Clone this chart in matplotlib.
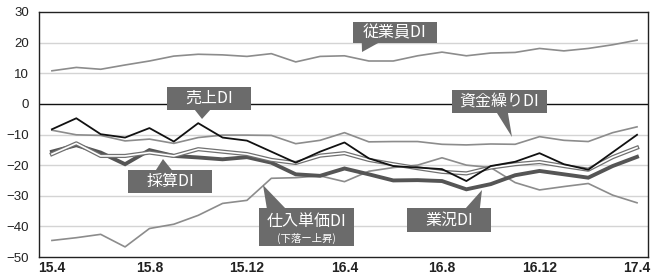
import numpy as np
import matplotlib
matplotlib.use("Agg")
import matplotlib.pyplot as plt
from matplotlib.patches import Rectangle, Polygon

# ---- data ----
xtick_labels = ["15.4", "15.8", "15.12", "16.4", "16.8", "16.12", "17.4"]
employees = [10.8, 11.9, 11.3, 12.7, 14.0, 15.6, 16.2, 16.0, 15.5, 16.4, 13.7, 15.5, 15.7,
             14.0, 14.0, 15.7, 16.9, 15.7, 16.6, 16.8, 18.1, 17.3, 18.1, 19.3, 20.8]
sales = [-8.3, -4.7, -9.9, -11.0, -7.9, -12.3, -6.3, -11.0, -12.0, -15.6, -19.2, -15.6, -12.6,
         -17.8, -20.3, -20.8, -21.3, -25.2, -20.3, -18.9, -16.1, -19.7, -21.5, -15.8, -10.1]
cash = [-8.6, -10.1, -10.3, -12.1, -11.5, -12.9, -11.0, -10.2, -10.2, -10.3, -13.0, -11.9, -9.4,
        -12.4, -12.3, -12.3, -13.2, -13.4, -13.1, -13.2, -10.7, -11.9, -12.3, -9.4, -7.5]
profit = [-16.4, -12.9, -17.0, -17.0, -15.9, -17.0, -14.8, -15.6, -16.4, -18.3, -19.3, -16.9, -16.1,
          -18.3, -19.7, -21.0, -22.2, -22.7, -20.8, -19.7, -19.0, -20.3, -21.5, -17.4, -14.3]
business = [-15.6, -13.5, -15.9, -19.7, -15.1, -17.0, -17.5, -18.1, -17.4, -19.2, -23.0, -23.5, -21.1,
            -23.0, -25.0, -24.9, -25.2, -27.9, -26.2, -23.3, -21.9, -23.0, -24.1, -20.3, -17.3]
purchase = [-44.6, -43.7, -42.6, -46.7, -40.7, -39.3, -36.4, -32.5, -31.5, -24.3, -24.1, -23.5, -25.4,
            -22.0, -20.8, -20.0, -17.6, -20.0, -20.8, -25.7, -28.1, -27.0, -26.0, -29.8, -32.3]
yticks = [30, 20, 10, 0, -10, -20, -30, -40, -50]

x = np.arange(len(employees))

CJK = ["Noto Sans CJK JP", "DejaVu Sans"]
LAT = ["Liberation Sans", "DejaVu Sans"]

fig = plt.figure(figsize=(6.51, 2.76), dpi=100)
ax = fig.add_axes([39/651, 1 - 257/276, 609/651, 245/276])

ax.set_xlim(-0.53, 24.45)
ax.set_ylim(-50, 30)

# grid
for v in yticks:
    if v == 0:
        ax.axhline(v, color="#111111", lw=1.0, zorder=1)
    elif v not in (30, -50):
        ax.axhline(v, color="#d4d4d4", lw=1.0, zorder=0)

gray = "#8c8c8c"
ax.plot(x, employees, color=gray, lw=1.2, zorder=3)
ax.plot(x, cash, color=gray, lw=1.2, zorder=3)
ax.plot(x, purchase, color=gray, lw=1.2, zorder=3)
ax.plot(x, business, color="#555555", lw=2.8, zorder=4, solid_joinstyle="miter")
ax.plot(x, profit, color="#707070", lw=3.0, zorder=5)
ax.plot(x, profit, color="white", lw=1.2, zorder=6)
ax.plot(x, sales, color="#111111", lw=1.3, zorder=7)

for s in ax.spines.values():
    s.set_color("#222222")
    s.set_linewidth(1.0)

ax.set_yticks(yticks)
ax.set_yticklabels([("−" + str(abs(v))) if v < 0 else str(v) for v in yticks],
                   family=LAT, fontsize=9.5, color="#222222")
ax.set_xticks(np.arange(0, len(employees), 4))
ax.set_xticklabels(xtick_labels, family=LAT, fontsize=10, fontweight="bold", color="#222222")
ax.tick_params(axis="y", length=0, pad=7)
ax.tick_params(axis="x", length=0, pad=3)

box_col = "#6b6b6b"


def callout(x0, x1, y0, y1, tip, base, base_y, text, size=11.5, sub=None):
    ax.add_patch(Rectangle((x0, y1), x1 - x0, y0 - y1, transform=ax.transAxes,
                           facecolor=box_col, edgecolor="none", zorder=10, clip_on=False))
    ax.add_patch(Polygon([(base[0], base_y), (base[1], base_y), tip], closed=True,
                         transform=ax.transAxes, facecolor=box_col, edgecolor="none",
                         zorder=10, clip_on=False))
    cx = (x0 + x1) / 2
    if sub is None:
        ax.text(cx, (y0 + y1) / 2, text, transform=ax.transAxes, ha="center", va="center",
                color="white", fontsize=size, family=CJK, zorder=11)
    else:
        ax.text(cx, y0 - (y0 - y1) * 0.36, text, transform=ax.transAxes, ha="center",
                va="center", color="white", fontsize=size, family=CJK, zorder=11)
        ax.text(cx, y1 + (y0 - y1) * 0.2, sub, transform=ax.transAxes, ha="center",
                va="center", color="white", fontsize=7.5, family=CJK, zorder=11)


callout(0.5156, 0.6535, 0.9592, 0.8735, (0.5304, 0.8367), (0.530, 0.557), 0.8735, "従業員DI")
callout(0.2102, 0.3481, 0.6939, 0.6000, (0.2677, 0.5633), (0.256, 0.281), 0.6000, "売上DI")
callout(0.6782, 0.8342, 0.6816, 0.5878, (0.7767, 0.4898), (0.752, 0.770), 0.5878, "資金繰りDI")
callout(0.1461, 0.2841, 0.3551, 0.2612, (0.2036, 0.4000), (0.192, 0.218), 0.3551, "採算DI")
callout(0.3612, 0.5172, 0.2000, 0.0449, (0.3678, 0.2939), (0.374, 0.404), 0.2000, "仕入単価DI",
        sub="(下落ー上昇)")
callout(0.6043, 0.7422, 0.2000, 0.1020, (0.7274, 0.2735), (0.701, 0.724), 0.2000, "業況DI")

fig.savefig("out.png", dpi=100)
